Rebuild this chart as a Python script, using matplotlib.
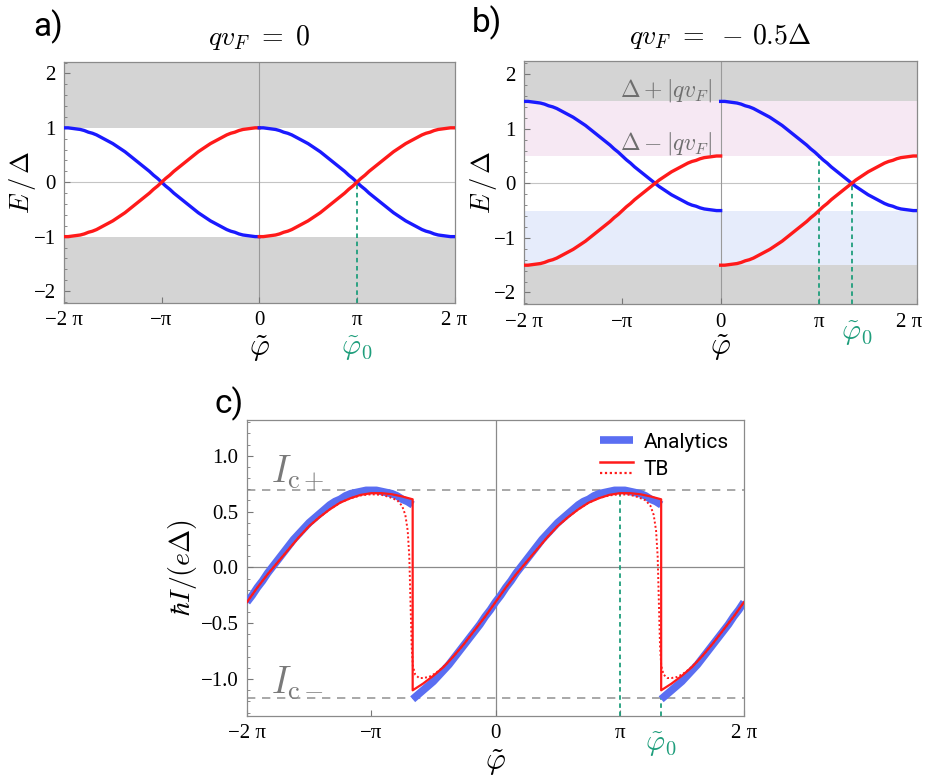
import numpy as np
import matplotlib
matplotlib.use("Agg")
import matplotlib.pyplot as plt
from matplotlib.lines import Line2D
from matplotlib.legend_handler import HandlerBase
import matplotlib.transforms as mtransforms

plt.rcParams['mathtext.fontset'] = 'cm'
plt.rcParams['font.family'] = ['Liberation Serif', 'DejaVu Serif']

PI = np.pi
# ---------------- data ----------------
xtick_vals = [-2 * PI, -PI, 0, PI, 2 * PI]
xtick_labels = ["\u22122 \u03c0", "\u2212\u03c0", "0", "\u03c0", "2 \u03c0"]

# panel a: q v_F = 0 (one branch sampled every pi/24 over a 2*pi span)
Ea_blue = [1.00, 1.00, 0.99, 0.98, 0.97, 0.95, 0.92, 0.90, 0.87, 0.83, 0.79, 0.75, 0.71, 0.66, 0.61,
           0.56, 0.50, 0.44, 0.38, 0.32, 0.26, 0.20, 0.13, 0.07, 0.00, -0.07, -0.13, -0.20, -0.26,
           -0.32, -0.38, -0.44, -0.50, -0.56, -0.61, -0.66, -0.71, -0.75, -0.79, -0.83, -0.87,
           -0.90, -0.92, -0.95, -0.97, -0.98, -0.99, -1.00, -1.00]
Ea_red = [-1.00, -1.00, -0.99, -0.98, -0.97, -0.95, -0.92, -0.90, -0.87, -0.83, -0.79, -0.75, -0.71,
          -0.66, -0.61, -0.56, -0.50, -0.44, -0.38, -0.32, -0.26, -0.20, -0.13, -0.07, 0.00, 0.07,
          0.13, 0.20, 0.26, 0.32, 0.38, 0.44, 0.50, 0.56, 0.61, 0.66, 0.71, 0.75, 0.79, 0.83, 0.87,
          0.90, 0.92, 0.95, 0.97, 0.98, 0.99, 1.00, 1.00]

# panel b: q v_F = -0.5 Delta
Eb_blue = [1.50, 1.50, 1.49, 1.48, 1.47, 1.45, 1.42, 1.40, 1.37, 1.33, 1.29, 1.25, 1.21, 1.16, 1.11,
           1.06, 1.00, 0.94, 0.88, 0.82, 0.76, 0.70, 0.63, 0.57, 0.50, 0.43, 0.37, 0.30, 0.24, 0.18,
           0.12, 0.06, 0.00, -0.06, -0.11, -0.16, -0.21, -0.25, -0.29, -0.33, -0.37, -0.40, -0.42,
           -0.45, -0.47, -0.48, -0.49, -0.50, -0.50]
Eb_red = [-1.50, -1.50, -1.49, -1.48, -1.47, -1.45, -1.42, -1.40, -1.37, -1.33, -1.29, -1.25, -1.21,
          -1.16, -1.11, -1.06, -1.00, -0.94, -0.88, -0.82, -0.76, -0.70, -0.63, -0.57, -0.50, -0.43,
          -0.37, -0.30, -0.24, -0.18, -0.12, -0.06, 0.00, 0.06, 0.11, 0.16, 0.21, 0.25, 0.29, 0.33,
          0.37, 0.40, 0.42, 0.45, 0.47, 0.48, 0.49, 0.50, 0.50]
gap_a = 1.0
gap_b_outer = 1.5
gap_b_inner = 0.5
phi0_a = PI
phi0_b = 4 * PI / 3

# panel c: current-phase relation
phi_jump = [-2 * PI / 3, 4 * PI / 3]
# analytics (steps of pi/24)
ana_left = [-0.31, -0.25, -0.18, -0.12, -0.05, 0.01, 0.07, 0.13, 0.19, 0.25, 0.30, 0.35, 0.40, 0.44,
            0.48, 0.52, 0.56, 0.59, 0.61, 0.64, 0.66, 0.67, 0.68, 0.69, 0.69, 0.69, 0.68, 0.67,
            0.66, 0.64, 0.61, 0.59, 0.56]                                  # -2pi .. -2pi/3
ana_mid = [-1.18, -1.14, -1.10, -1.06, -1.02, -0.97, -0.92, -0.87, -0.81, -0.75, -0.69, -0.63, -0.57,
           -0.51, -0.44, -0.38, -0.31, -0.25, -0.18, -0.12, -0.05, 0.01, 0.07, 0.13, 0.19, 0.25,
           0.30, 0.35, 0.40, 0.44, 0.48, 0.52, 0.56, 0.59, 0.61, 0.64, 0.66, 0.67, 0.68, 0.69,
           0.69, 0.69, 0.68, 0.67, 0.66, 0.64, 0.61, 0.59, 0.56]          # -2pi/3 .. 4pi/3
ana_right = [-1.18, -1.14, -1.10, -1.06, -1.02, -0.97, -0.92, -0.87, -0.81, -0.75, -0.69, -0.63,
             -0.57, -0.51, -0.44, -0.38, -0.31]                            # 4pi/3 .. 2pi
# tight-binding, solid (steps of pi/12)
tb_left = [-0.31, -0.18, -0.06, 0.05, 0.16, 0.27, 0.37, 0.45, 0.52, 0.58, 0.62, 0.65, 0.665,
           0.665, 0.655, 0.635, 0.61]
tb_mid = [-1.10, -1.04, -0.97, -0.89, -0.79, -0.68, -0.56, -0.44, -0.31, -0.18, -0.06, 0.05, 0.16,
          0.27, 0.37, 0.45, 0.52, 0.58, 0.62, 0.65, 0.665, 0.665, 0.655, 0.635, 0.61]
tb_right = [-1.10, -1.04, -0.97, -0.89, -0.79, -0.68, -0.56, -0.44, -0.31]
# tight-binding, dotted (smooth through the jumps)
tbd_phi = [-6.283, -6.021, -5.760, -5.498, -5.236, -4.974, -4.712, -4.451, -4.189, -3.927, -3.665,
           -3.403, -3.142, -2.880, -2.68, -2.48, -2.36, -2.28, -2.22, -2.18, -2.15, -2.12, -2.09,
           -2.03, -1.93, -1.83, -1.68, -1.53, -1.38, -1.23, -1.047, -0.785, -0.524, -0.262, 0.0,
           0.262, 0.524, 0.785, 1.047, 1.309, 1.571, 1.833, 2.094, 2.356, 2.618, 2.880, 3.142,
           3.403, 3.60, 3.80, 3.92, 4.00, 4.06, 4.10, 4.13, 4.16, 4.19, 4.25, 4.35, 4.45, 4.60,
           4.75, 4.90, 5.05, 5.236, 5.498, 5.760, 6.021, 6.283]
tbd_I = [-0.31, -0.18, -0.06, 0.05, 0.16, 0.27, 0.37, 0.45, 0.52, 0.58, 0.62, 0.645, 0.655,
         0.65, 0.63, 0.60, 0.55, 0.47, 0.33, 0.10, -0.30, -0.70, -0.88,
         -0.96, -0.99, -0.99, -0.98, -0.95, -0.91, -0.86, -0.79, -0.68, -0.56, -0.44, -0.31,
         -0.18, -0.06, 0.05, 0.16, 0.27, 0.37, 0.45, 0.52, 0.58, 0.62, 0.645, 0.655,
         0.65, 0.63, 0.60, 0.55, 0.47, 0.33, 0.10, -0.30, -0.70, -0.88, -0.96, -0.99, -0.99, -0.98,
         -0.95, -0.91, -0.86, -0.79, -0.68, -0.56, -0.44, -0.31]
Ic_plus = 0.69
Ic_minus = -1.17

# ---------------- style ----------------
BLUE = '#1a1aff'
RED = '#ff1a1a'
ABLUE = '#5a6ef2'
GREEN = '#1f9e7c'
GRAYBAND = '#d4d4d4'
PINK = '#f6e8f3'
LBLUE = '#e6ecfb'
SPINE = '#8a8a8a'
SANS = ['Roboto', 'DejaVu Sans']
DASH_G = (0, (2.5, 2))
DOT_R = (0, (1, 1.2))

fig = plt.figure(figsize=(9.25, 7.8), dpi=100)

W, H = 925.0, 780.0
def add_ax(x0, y0, x1, y1):
    return fig.add_axes([x0 / W, 1 - y1 / H, (x1 - x0) / W, (y1 - y0) / H])

ax_a = add_ax(64, 62, 454.5, 303)
ax_b = add_ax(524, 61, 917.3, 304.5)
ax_c = add_ax(247, 420, 744, 716)


def style_axis(ax, ylim, yticks, ylabels, minor):
    ax.set_xlim(-2 * PI, 2 * PI)
    ax.set_ylim(*ylim)
    ax.set_xticks(xtick_vals)
    ax.set_xticklabels(xtick_labels)
    ax.set_yticks(yticks)
    ax.set_yticklabels(ylabels)
    ax.set_yticks(minor, minor=True)
    ax.tick_params(axis='both', which='major', direction='in', length=4, width=0.8,
                   color='#777777', labelsize=15, pad=6)
    ax.tick_params(axis='y', which='minor', direction='in', length=2.2, width=0.6, color='#777777')
    ax.tick_params(axis='x', which='minor', length=0)
    for s in ax.spines.values():
        s.set_color(SPINE)
        s.set_linewidth(0.9)


def grid_from(start, values, nsteps_per_2pi):
    return start + np.arange(len(values)) * (2 * PI / nsteps_per_2pi)


def xlabels(ax, y_phi, x_phi0, y_phi0):
    tr = mtransforms.blended_transform_factory(ax.transData, ax.transAxes)
    ax.text(0, y_phi, r'$\tilde{\varphi}$', transform=tr, ha='center', va='center', fontsize=22)
    ax.text(x_phi0, y_phi0, r'$\tilde{\varphi}_0$', transform=tr, ha='center', va='center',
            fontsize=21, color=GREEN)

# ---------------- panel a ----------------
ax = ax_a
style_axis(ax, (-2.22, 2.21), [-2, -1, 0, 1, 2], ["\u22122", "\u22121", "0", "1", "2"],
           np.arange(-2.2, 2.21, 0.2))
ax.axhspan(gap_a, 3, color=GRAYBAND, lw=0, zorder=0)
ax.axhspan(-3, -gap_a, color=GRAYBAND, lw=0, zorder=0)
ax.axhline(0, color='#c4c4c4', lw=0.8, zorder=1)
ax.axvline(0, color='#9a9a9a', lw=0.8, zorder=1)
for start in (-2 * PI, 0):
    ax.plot(grid_from(start, Ea_blue, 48), Ea_blue, color=BLUE, lw=2.4, zorder=3)
    ax.plot(grid_from(start, Ea_red, 48), Ea_red, color=RED, lw=2.4, zorder=3)
ax.plot([phi0_a, phi0_a], [-2.22, 0], color=GREEN, lw=1.3, ls=DASH_G, zorder=2)
ax.set_title(r'$qv_F\ =\ 0$', fontsize=20, pad=12)
ax.text(-0.105, 0.5, r'$E\,/\,\Delta$', transform=ax.transAxes, rotation=90,
        ha='center', va='center', fontsize=19)
xlabels(ax, -0.19, phi0_a, -0.19)
fig.text(33 / W, 1 - 27 / H, 'a)', fontsize=24, family=SANS, va='center', ha='left')

# ---------------- panel b ----------------
ax = ax_b
style_axis(ax, (-2.22, 2.24), [-2, -1, 0, 1, 2], ["\u22122", "\u22121", "0", "1", "2"],
           np.arange(-2.2, 2.21, 0.2))
lab = ax.get_xticklabels()[-1]
lab.set_transform(lab.get_transform() + mtransforms.ScaledTranslation(-8 / 100, 0, fig.dpi_scale_trans))
ax.axhspan(gap_b_outer, 3, color=GRAYBAND, lw=0, zorder=0)
ax.axhspan(-3, -gap_b_outer, color=GRAYBAND, lw=0, zorder=0)
ax.axhspan(gap_b_inner, gap_b_outer, color=PINK, lw=0, zorder=0)
ax.axhspan(-gap_b_outer, -gap_b_inner, color=LBLUE, lw=0, zorder=0)
ax.axhline(0, color='#c4c4c4', lw=0.8, zorder=1)
ax.axvline(0, color='#9a9a9a', lw=0.8, zorder=1)
for start in (-2 * PI, 0):
    ax.plot(grid_from(start, Eb_blue, 48), Eb_blue, color=BLUE, lw=2.4, zorder=3)
    ax.plot(grid_from(start, Eb_red, 48), Eb_red, color=RED, lw=2.4, zorder=3)
ax.plot([PI, PI], [-2.22, gap_b_inner], color=GREEN, lw=1.3, ls=DASH_G, zorder=2)
ax.plot([phi0_b, phi0_b], [-2.22, 0], color=GREEN, lw=1.3, ls=DASH_G, zorder=2)
ax.text(-0.25, 1.7, r'$\Delta + |qv_F|$', ha='right', va='center', fontsize=17, color='#6e6e6e')
ax.text(-0.25, 0.72, r'$\Delta - |qv_F|$', ha='right', va='center', fontsize=17, color='#6e6e6e')
ax.set_title(r'$qv_F\ =\ -\,0.5\Delta$', fontsize=20, pad=12)
ax.text(-0.104, 0.5, r'$E\,/\,\Delta$', transform=ax.transAxes, rotation=90,
        ha='center', va='center', fontsize=19)
xlabels(ax, -0.175, phi0_b + 0.15, -0.12)
fig.text(472 / W, 1 - 23 / H, 'b)', fontsize=24, family=SANS, va='center', ha='left')

# ---------------- panel c ----------------
ax = ax_c
style_axis(ax, (-1.33, 1.32), [-1.0, -0.5, 0.0, 0.5, 1.0],
           ["\u22121.0", "\u22120.5", "0.0", "0.5", "1.0"], np.arange(-1.3, 1.31, 0.1))
ax.axhline(0, color='#8a8a8a', lw=0.9, zorder=1)
ax.axvline(0, color='#8a8a8a', lw=0.9, zorder=1)
ax.axhline(Ic_plus, color='#9a9a9a', lw=1.2, ls=(0, (5, 4)), zorder=1)
ax.axhline(Ic_minus, color='#9a9a9a', lw=1.2, ls=(0, (5, 4)), zorder=1)
ax.plot([PI, PI], [-1.33, Ic_plus], color=GREEN, lw=1.3, ls=DASH_G, zorder=2)
ax.plot([phi_jump[1], phi_jump[1]], [-1.33, Ic_minus], color=GREEN, lw=1.3, ls=DASH_G, zorder=2)

for start, vals in ((-2 * PI, ana_left), (phi_jump[0], ana_mid), (phi_jump[1], ana_right)):
    ax.plot(grid_from(start, vals, 48), vals, color=ABLUE, lw=5.5, zorder=3,
            solid_capstyle='butt')
tb_phi_all = np.concatenate([grid_from(-2 * PI, tb_left, 24), grid_from(phi_jump[0], tb_mid, 24),
                             grid_from(phi_jump[1], tb_right, 24)])
tb_I_all = np.concatenate([tb_left, tb_mid, tb_right])
ax.plot(tb_phi_all, tb_I_all, color=RED, lw=1.6, zorder=4)
ax.plot(tbd_phi, tbd_I, color=RED, lw=1.4, ls=DOT_R, zorder=4)

ax.text(-5.67, 0.84, r'$I_{\mathrm{c}+}$', fontsize=27, color='#7a7a7a', ha='left', va='center')
ax.text(-5.67, -1.04, r'$I_{\mathrm{c}-}$', fontsize=27, color='#7a7a7a', ha='left', va='center')
ax.text(-0.13, 0.5, r'$\hbar I/(e\Delta)$', transform=ax.transAxes, rotation=90,
        ha='center', va='center', fontsize=20)
xlabels(ax, -0.158, phi_jump[1], -0.098)
fig.text(214 / W, 1 - 404 / H, 'c)', fontsize=24, family=SANS, va='center', ha='left')


class HandlerStack(HandlerBase):
    """Draws the given line styles stacked vertically in one legend slot."""
    def __init__(self, styles, **kw):
        super().__init__(**kw)
        self.styles = styles

    def create_artists(self, legend, orig_handle, xdescent, ydescent, width, height, fontsize, trans):
        arts = []
        n = len(self.styles)
        for i, st in enumerate(self.styles):
            y = height * (0.5 + 0.8 * (0.5 - i)) if n > 1 else height / 2
            ln = Line2D([-xdescent, width - xdescent], [y - ydescent, y - ydescent], **st)
            ln.set_transform(trans)
            arts.append(ln)
        return arts

h_ana = Line2D([], [], color=ABLUE, lw=5.5)
h_tb = Line2D([], [], color=RED, lw=1.6)
leg = ax.legend([h_ana, h_tb], ['Analytics', 'TB'],
                handler_map={h_ana: HandlerStack([dict(color=ABLUE, lw=5.5, solid_capstyle='butt')]),
                             h_tb: HandlerStack([dict(color=RED, lw=1.8),
                                                 dict(color=RED, lw=1.6, ls=DOT_R)])},
                loc='upper right', bbox_to_anchor=(0.995, 1.0), frameon=False,
                prop={'family': SANS, 'size': 15},
                handlelength=1.6, handletextpad=0.5, labelspacing=0.4, borderaxespad=0.2)

fig.savefig('out.png', dpi=100)
